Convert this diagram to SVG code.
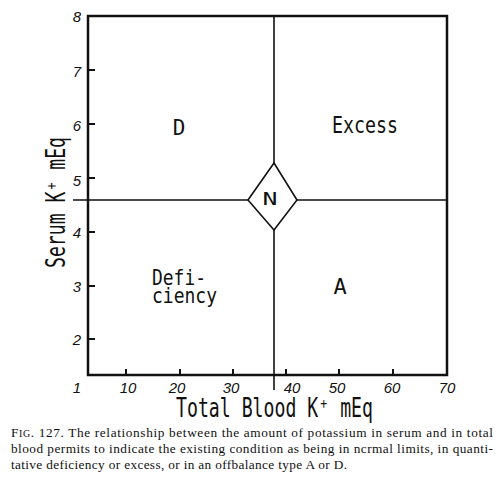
<svg xmlns="http://www.w3.org/2000/svg" width="500" height="480" viewBox="0 0 500 480">
<style>
.bg{fill:#fff}
.frame{fill:none;stroke:#111;stroke-width:2.5}
.div{fill:none;stroke:#111;stroke-width:1.6}
.tick{stroke:#111;stroke-width:2}
.let{font-family:"DejaVu Sans Mono","Liberation Mono",monospace;fill:#111}
.num{font-family:"Liberation Sans",Arial,sans-serif;font-style:italic;font-size:15px;fill:#111;text-anchor:middle}
.cap{font-family:"Liberation Serif","Times New Roman",serif;font-size:13.3px;fill:#111}
</style>
<rect class="bg" x="0" y="0" width="500" height="480"/>
<g id="axes">
<path class="frame" d="M88,16 H447 V375 H88 Z"/>
<g id="yticks">
<line class="tick" x1="88" y1="70" x2="95" y2="70"/>
<line class="tick" x1="88" y1="124" x2="95" y2="124"/>
<line class="tick" x1="88" y1="178" x2="95" y2="178"/>
<line class="tick" x1="88" y1="232" x2="95" y2="232"/>
<line class="tick" x1="88" y1="286" x2="95" y2="286"/>
<line class="tick" x1="88" y1="339" x2="95" y2="339"/>
</g>
<g id="xticks">
<line class="tick" x1="126" y1="375" x2="126" y2="369"/>
<line class="tick" x1="180" y1="375" x2="180" y2="369"/>
<line class="tick" x1="233" y1="375" x2="233" y2="369"/>
<line class="tick" x1="286" y1="375" x2="286" y2="369"/>
<line class="tick" x1="339" y1="375" x2="339" y2="369"/>
<line class="tick" x1="393" y1="375" x2="393" y2="369"/>
</g>
<g id="ylabels">
<text class="num" x="77" y="22">8</text>
<text class="num" x="77" y="77">7</text>
<text class="num" x="77" y="131">6</text>
<text class="num" x="77" y="186">5</text>
<text class="num" x="77" y="238">4</text>
<text class="num" x="77" y="292">3</text>
<text class="num" x="77" y="345">2</text>
</g>
<g id="xlabels">
<text class="num" x="77" y="393">1</text>
<text class="num" x="128" y="393">10</text>
<text class="num" x="177" y="393">20</text>
<text class="num" x="231" y="393">30</text>
<text class="num" x="292" y="393">40</text>
<text class="num" x="337" y="393">50</text>
<text class="num" x="392" y="393">60</text>
<text class="num" x="447" y="393">70</text>
</g>
<text class="let" font-size="26" transform="translate(65,268) rotate(-90)" textLength="131" lengthAdjust="spacingAndGlyphs">Serum K⁺ mEq</text>
<text class="let" font-size="26" x="176" y="417" textLength="197" lengthAdjust="spacingAndGlyphs">Total Blood K⁺ mEq</text>
</g>
<g id="connectors">
<line class="div" x1="274" y1="16" x2="274" y2="163"/>
<line class="div" x1="274" y1="230" x2="274" y2="390"/>
<line class="div" x1="73" y1="200" x2="248" y2="200"/>
<line class="div" x1="297" y1="200" x2="447" y2="200"/>
</g>
<g id="node-N">
<path class="div" d="M274,163 L297,200 L274,230 L248,200 Z"/>
<text class="let" font-size="18" x="270" y="205" text-anchor="middle" textLength="15" lengthAdjust="spacingAndGlyphs">N</text>
</g>
<g id="node-D">
<text class="let" font-size="21" x="179" y="135" text-anchor="middle">D</text>
</g>
<g id="node-Excess">
<text class="let" font-size="23" x="332" y="133" textLength="66" lengthAdjust="spacingAndGlyphs">Excess</text>
</g>
<g id="node-Deficiency">
<text class="let" font-size="21" x="152" y="285" textLength="54" lengthAdjust="spacingAndGlyphs">Defi-</text>
<text class="let" font-size="21" x="152" y="303" textLength="65" lengthAdjust="spacingAndGlyphs">ciency</text>
</g>
<g id="node-A">
<text class="let" font-size="22" x="340" y="294" text-anchor="middle">A</text>
</g>
<g id="caption">
<text class="cap" x="11" y="437" textLength="482" lengthAdjust="spacing">F<tspan font-size="10">IG</tspan>. 127. The relationship between the amount of potassium in serum and in total</text>
<text class="cap" x="11" y="453" textLength="482" lengthAdjust="spacing">blood permits to indicate the existing condition as being in ncrmal limits, in quanti-</text>
<text class="cap" x="11" y="469" textLength="336" lengthAdjust="spacing">tative deficiency or excess, or in an offbalance type A or D.</text>
</g>
</svg>
